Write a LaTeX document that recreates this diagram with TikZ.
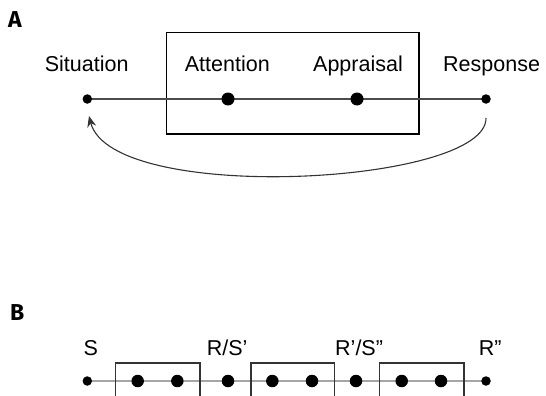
\documentclass[tikz,border=0pt]{standalone}
\usepackage{fontspec}
\setmainfont{Liberation Sans}
\newfontfamily\panelfont{Fira Sans}
\usetikzlibrary{arrows.meta}
\tikzset{
  lbl/.style={anchor=base west, inner sep=0pt, font=\fontsize{21.5}{24}\selectfont},
  plbl/.style={anchor=north west, inner sep=0pt, font=\panelfont\bfseries\fontsize{23}{26}\selectfont},
  smalldot/.style={circle, fill=black, inner sep=0pt, minimum size=9.5pt},
  bigdot/.style={circle, fill=black, inner sep=0pt, minimum size=13pt},
  bdot/.style={circle, fill=black, inner sep=0pt, minimum size=12.5pt},
  frame/.style={draw=black, line width=1.3pt},
  bframe/.style={draw=black!80, line width=1.3pt},
  aline/.style={draw=black!70, line width=1.2pt},
  bline/.style={draw=black!35, line width=2.2pt},
  fb/.style={draw=black!80, line width=1.1pt, -{Stealth[length=11pt,width=9pt]}},
}
\begin{document}
\begin{tikzpicture}[x=1pt,y=-1pt]
\useasboundingbox (0,0) rectangle (546,396);
% Panel A
\node[plbl] (labA) at (8,11) {A};
\node[frame, minimum width=252.3pt, minimum height=101.3pt, inner sep=0pt] (boxA) at (292.85,83.35) {};
\node[lbl] (tSit) at (44.6,71.7) {Situation};
\node[lbl] (tAtt) at (184.7,71.7) {Attention};
\node[lbl] (tApp) at (313,71.7) {Appraisal};
\node[lbl] (tRes) at (443,71.7) {Response};
\coordinate (pSit) at (87.3,99);
\coordinate (pAtt) at (228,99);
\coordinate (pApp) at (357,99);
\coordinate (pRes) at (486,99);
\draw[aline] (pSit) -- (pRes);
\node[smalldot] (sit) at (pSit) {};
\node[bigdot] (att) at (pAtt) {};
\node[bigdot] (app) at (pApp) {};
\node[smalldot] (res) at (pRes) {};
\coordinate (fbR) at (486,118);
\coordinate (fbS) at (89,116);
\draw[fb] (fbR) .. controls (487,185) and (112,205) .. (fbS);
% Panel B
\node[plbl] (labB) at (10,304) {B};
\node[lbl] (tS) at (83.3,355) {S};
\node[lbl] (tRS1) at (206.7,355) {R/S’};
\node[lbl] (tRS2) at (335,355) {R’/S”};
\node[lbl] (tR2) at (478.7,355) {R”};
\coordinate (s0) at (87.3,381);
\coordinate (b1) at (137.7,381);
\coordinate (b2) at (177.3,381);
\coordinate (m1) at (228,381);
\coordinate (b3) at (272.3,381);
\coordinate (b4) at (312,381);
\coordinate (m2) at (356,381);
\coordinate (b5) at (401.7,381);
\coordinate (b6) at (441,381);
\coordinate (r2) at (486,381);
\draw[bline] (s0) -- (r2);
\node[smalldot] (dS) at (s0) {};
\node[bdot] (d1) at (b1) {};
\node[bdot] (d2) at (b2) {};
\node[bdot] (dM1) at (m1) {};
\node[bdot] (d3) at (b3) {};
\node[bdot] (d4) at (b4) {};
\node[bdot] (dM2) at (m2) {};
\node[bdot] (d5) at (b5) {};
\node[bdot] (d6) at (b6) {};
\node[smalldot] (dR) at (r2) {};
\draw[bframe] (115.7,397) -- (115.7,363) -- (200,363) -- (200,397);
\draw[bframe] (251,397) -- (251,363) -- (334.3,363) -- (334.3,397);
\draw[bframe] (379.3,397) -- (379.3,363) -- (464,363) -- (464,397);
\end{tikzpicture}
\end{document}
